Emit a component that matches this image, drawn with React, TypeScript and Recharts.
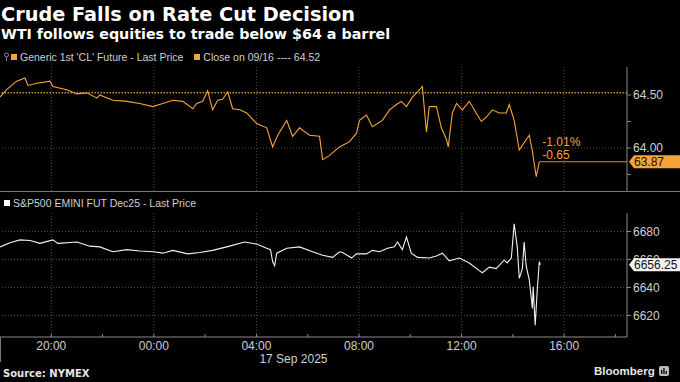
import { LineChart, Line, XAxis, YAxis, ReferenceLine } from "recharts";

// hours counted from 16 Sep 00:00 (24 = 17 Sep 00:00)
const wtiHours = [
  18.0, 18.26, 18.65, 18.97, 19.09, 19.44, 19.95, 20.06, 20.61, 21.0, 21.39, 21.78, 21.89, 22.4, 22.95,
  23.45, 23.96, 24.35, 24.74, 25.13, 25.52, 25.67, 25.9, 26.1, 26.29, 26.49, 26.68, 26.88, 27.07, 27.35,
  27.62, 28.01, 28.4, 28.63, 28.83, 29.18, 29.41, 29.68, 30.07, 30.46, 30.58, 30.85, 31.24, 31.63, 31.9,
  32.02, 32.29, 32.52, 32.91, 33.19, 33.46, 33.65, 33.85, 34.08, 34.28, 34.47, 34.63, 34.74, 35.02, 35.21,
  35.41, 35.48, 35.64, 35.8, 36.03, 36.3, 36.57, 36.77, 36.96, 37.2, 37.47, 37.74, 37.86, 38.05, 38.25,
  38.52, 38.64, 38.76, 38.91, 39.03,
];
const wtiPrice = [
  64.48, 64.55, 64.63, 64.66, 64.59, 64.61, 64.63, 64.58, 64.55, 64.51, 64.52, 64.47, 64.5, 64.45, 64.44,
  64.42, 64.39, 64.42, 64.45, 64.44, 64.37, 64.42, 64.44, 64.54, 64.36, 64.45, 64.46, 64.53, 64.37, 64.36,
  64.33, 64.23, 64.19, 64.01, 64.12, 64.26, 64.11, 64.19, 64.12, 64.11, 63.89, 63.93, 64.01, 64.06, 64.14,
  64.26, 64.31, 64.2, 64.26, 64.36, 64.41, 64.44, 64.39, 64.48, 64.53, 64.58, 64.15, 64.39, 64.39, 64.19,
  64.08, 64.01, 64.33, 64.42, 64.36, 64.44, 64.33, 64.25, 64.29, 64.36, 64.33, 64.33, 64.41, 64.26, 63.98,
  64.08, 64.12, 63.97, 63.73, 63.87,
];

const spxHours = [
  18.0, 18.39, 18.78, 19.17, 19.56, 20.06, 20.26, 21.0, 21.5, 21.89, 22.4, 22.95, 23.45, 24.0, 24.35,
  24.74, 25.32, 25.79, 26.29, 26.84, 27.54, 28.01, 28.4, 28.55, 28.63, 28.71, 28.79, 29.18, 29.68, 30.19,
  30.58, 30.97, 31.24, 31.36, 31.71, 31.9, 32.29, 32.52, 32.8, 33.11, 33.38, 33.5, 33.69, 33.85, 34.04,
  34.28, 34.74, 35.02, 35.25, 35.52, 35.91, 36.3, 36.69, 36.81, 37.08, 37.35, 37.66, 37.78, 37.94, 38.05,
  38.17, 38.25, 38.37, 38.44, 38.52, 38.64, 38.76, 38.79, 38.87, 38.95, 39.03, 39.07,
];
const spxPrice = [
  6669, 6672, 6674, 6673.5, 6671.5, 6674, 6671.5, 6672.5, 6669.5, 6669, 6665.5, 6667, 6666, 6665.5, 6664.5,
  6666.5, 6664, 6665, 6666.5, 6669, 6672.5, 6671, 6668, 6667, 6658.5, 6655.5, 6664.5, 6668, 6669, 6665.5,
  6663, 6661.5, 6665.5, 6665, 6661, 6664, 6664, 6666.5, 6665.5, 6668, 6669, 6672.5, 6667, 6676, 6664.5,
  6661.5, 6661, 6662.5, 6664.5, 6659, 6661, 6657.5, 6652, 6650.5, 6654.5, 6653.5, 6659.5, 6657.5, 6661, 6685.5,
  6669, 6646.5, 6653.5, 6672.5, 6655, 6645.5, 6625, 6640.5, 6613, 6638, 6658.5, 6656.25,
];

const wtiClose = 64.52;
const wtiTicks = [63.75, 64.0, 64.25, 64.5];
const wtiLabels = ["", "64.00", "", "64.50"];
const spxTicks = [6620, 6640, 6660, 6680];
const hourTicks = [20, 22, 24, 26, 28, 30, 32, 34, 36, 38, 40, 42];
const hourLabels = ["20:00", "", "00:00", "", "04:00", "", "08:00", "", "12:00", "", "16:00", ""];
const majorHours = [20, 24, 28, 32, 36, 40];
const dateLabel = "17 Sep 2025";
const xDomain = [18, 42.45];
const wtiDomain = [63.594, 64.764];
const spxDomain = [6604.6, 6693.2];

const wtiData = wtiHours.map((t, i) => ({ t, v: wtiPrice[i] }));
const spxData = spxHours.map((t, i) => ({ t, v: spxPrice[i] }));
const wtiLast = wtiPrice[wtiPrice.length - 1];
const wtiLastHour = wtiHours[wtiHours.length - 1];
const spxLast = spxPrice[spxPrice.length - 1];
const chg = wtiLast - wtiClose;
const chgPct = (chg / wtiClose) * 100;

const ORANGE = "#f5a43a";
const GRID = "#4c4c4c";
const AXIS = "#8a8a8a";
const TXT = "#cfcfcf";
const FONT = "'Liberation Sans', Arial, sans-serif";

const bottomMargin = { top: 21, right: 0, bottom: 15, left: 0 };

function Tag({ x, y, text, fill }: { x: number; y: number; text: string; fill: string }) {
  return (
    <g>
      <path d={`M${x} ${y} L${x + 5} ${y - 6.5} H680 V${y + 6.5} H${x + 5} Z`} fill={fill} />
      <text x={x + 5} y={y + 4.3} fill="#111" fontSize={12}>
        {text}
      </text>
    </g>
  );
}

function WtiLastLabel(props: any) {
  const { x, y, width } = props.viewBox;
  return (
    <g>
      <text x={x + 3} y={y - 16} fill={ORANGE} fontSize={12}>
        {chgPct.toFixed(2)}%
      </text>
      <text x={x + 3} y={y - 3} fill={ORANGE} fontSize={12}>
        {chg.toFixed(2)}
      </text>
      <Tag x={x + width + 2} y={y} text={wtiLast.toFixed(2)} fill={ORANGE} />
    </g>
  );
}

function SpxLastLabel(props: any) {
  const { x, y, width } = props.viewBox;
  return <Tag x={x + width + 2} y={y} text={spxLast.toFixed(2)} fill="#f2f2f2" />;
}

function HourTick(props: any) {
  const { x, y, payload } = props;
  const i = hourTicks.indexOf(payload.value);
  const label = hourLabels[i];
  return (
    <g>
      <line x1={x} x2={x} y1={y - 3} y2={y} stroke={AXIS} />
      {label && (
        <text x={x} y={y + 13} textAnchor="middle" fill={TXT} fontSize={12}>
          {label}
        </text>
      )}
      {payload.value === 28 && (
        <text x={x + 3} y={y + 26} fill={TXT} fontSize={12}>
          {dateLabel}
        </text>
      )}
    </g>
  );
}

export default function App() {
  return (
    <div
      style={{
        position: "absolute",
        left: 0,
        top: 0,
        width: 680,
        height: 382,
        background: "#000",
        overflow: "hidden",
        fontFamily: FONT,
        color: TXT,
      }}
    >
      <div
        style={{
          position: "absolute",
          left: 1,
          top: 3,
          fontFamily: "'DejaVu Sans', sans-serif",
          fontWeight: 700,
          fontSize: 19.3,
          color: "#fff",
          whiteSpace: "nowrap",
        }}
      >
        Crude Falls on Rate Cut Decision
      </div>
      <div
        style={{
          position: "absolute",
          left: 1,
          top: 26,
          fontFamily: "'DejaVu Sans', sans-serif",
          fontWeight: 700,
          fontSize: 14.3,
          color: "#fff",
          whiteSpace: "nowrap",
        }}
      >
        WTI follows equities to trade below $64 a barrel
      </div>

      {/* top legend */}
      <div style={{ position: "absolute", left: 3, top: 50, height: 14, display: "flex", alignItems: "center", fontSize: 10.5, whiteSpace: "nowrap" }}>
        <svg width={7} height={10} style={{ marginRight: 1 }}>
          <circle cx={3.5} cy={3} r={2} fill="none" stroke="#888" strokeWidth={1} />
          <line x1={3.5} x2={3.5} y1={5} y2={9} stroke="#888" />
        </svg>
        <span style={{ width: 6, height: 6, background: ORANGE, marginRight: 3 }} />
        <span>Generic 1st 'CL' Future - Last Price</span>
        <span style={{ width: 6, height: 6, background: ORANGE, marginLeft: 11, marginRight: 3 }} />
        <span>Close on 09/16 ---- {wtiClose.toFixed(2)}</span>
      </div>

      <div style={{ position: "absolute", left: 0, top: 0 }}>
        <LineChart width={680} height={192} data={wtiData} margin={{ top: 67, right: 0, bottom: 1, left: 0 }}>
          <XAxis dataKey="t" type="number" domain={xDomain} hide allowDataOverflow />
          <YAxis
            orientation="right"
            width={53}
            domain={wtiDomain}
            allowDataOverflow
            ticks={wtiTicks}
            interval={0}
            tickFormatter={(v: number) => wtiLabels[wtiTicks.indexOf(v)] ?? ""}
            axisLine={{ stroke: AXIS }}
            tickLine={{ stroke: AXIS }}
            tickSize={4}
            tickMargin={2}
            tick={{ fill: TXT, fontSize: 12 }}
          />
          {majorHours.map((h) => (
            <ReferenceLine key={h} x={h} stroke={GRID} strokeDasharray="1 2" />
          ))}
          <ReferenceLine y={64.0} stroke={GRID} strokeDasharray="1 2" />
          <ReferenceLine y={wtiClose} stroke="#c98a30" strokeWidth={1.5} strokeDasharray="1.5 1.5" />
          <Line type="linear" dataKey="v" stroke={ORANGE} strokeWidth={1.1} dot={false} isAnimationActive={false} />
          <ReferenceLine
            segment={[
              { x: wtiLastHour, y: wtiLast },
              { x: xDomain[1], y: wtiLast },
            ]}
            stroke="#d48d2e"
            strokeWidth={1.2}
            label={(p: any) => <WtiLastLabel {...p} />}
          />
        </LineChart>
      </div>

      <div style={{ position: "absolute", left: 0, top: 191, width: 680, height: 1, background: "#777" }} />

      {/* bottom legend */}
      <div style={{ position: "absolute", left: 4, top: 196, height: 14, display: "flex", alignItems: "center", fontSize: 10.5, whiteSpace: "nowrap" }}>
        <span style={{ width: 6, height: 6, background: "#fff", marginRight: 3 }} />
        <span>S&amp;P500 EMINI FUT Dec25 - Last Price</span>
      </div>

      <div style={{ position: "absolute", left: 0, top: 192 }}>
        <LineChart width={680} height={190} data={spxData} margin={bottomMargin}>
          <XAxis
            dataKey="t"
            type="number"
            domain={xDomain}
            allowDataOverflow
            ticks={hourTicks}
            interval={0}
            height={30}
            axisLine={{ stroke: AXIS }}
            tickLine={false}
            tickSize={0}
            tickMargin={0}
            tick={(p: any) => <HourTick {...p} />}
          />
          <YAxis
            orientation="right"
            width={53}
            domain={spxDomain}
            allowDataOverflow
            ticks={spxTicks}
            interval={0}
            axisLine={{ stroke: AXIS }}
            tickLine={{ stroke: AXIS }}
            tickSize={4}
            tickMargin={2}
            tick={{ fill: TXT, fontSize: 12 }}
          />
          {majorHours.map((h) => (
            <ReferenceLine key={h} x={h} stroke={GRID} strokeDasharray="1 2" />
          ))}
          {spxTicks.map((v) => (
            <ReferenceLine key={v} y={v} stroke={GRID} strokeDasharray="1 2" />
          ))}
          <Line type="linear" dataKey="v" stroke="#f2f2f2" strokeWidth={1.1} dot={false} isAnimationActive={false} />
        </LineChart>
      </div>

      {/* overlay with the same scales so the last-price tag sits above the axis labels */}
      <div style={{ position: "absolute", left: 0, top: 192, pointerEvents: "none" }}>
        <LineChart width={680} height={190} data={spxData} margin={bottomMargin}>
          <XAxis dataKey="t" type="number" domain={xDomain} allowDataOverflow height={30} tick={false} axisLine={false} tickLine={false} />
          <YAxis orientation="right" width={53} domain={spxDomain} allowDataOverflow tick={false} axisLine={false} tickLine={false} />
          <ReferenceLine y={spxLast} stroke="none" label={(p: any) => <SpxLastLabel {...p} />} />
        </LineChart>
      </div>

      <div style={{ position: "absolute", left: 0, top: 337, width: 1, height: 25, background: "#777" }} />

      <div
        style={{
          position: "absolute",
          left: 3,
          top: 368,
          fontFamily: "'DejaVu Sans', sans-serif",
          fontWeight: 700,
          fontSize: 10,
          color: "#e6e6e6",
        }}
      >
        Source: NYMEX
      </div>
      <div style={{ position: "absolute", left: 594, top: 365, display: "flex", alignItems: "center", color: "#e6e6e6" }}>
        <span style={{ fontWeight: 700, fontSize: 11.5 }}>Bloomberg</span>
        <svg width={10} height={10} style={{ marginLeft: 4 }}>
          <rect x={0} y={0} width={10} height={10} rx={2} fill="#bbb" />
          <rect x={2} y={4} width={1.3} height={4} fill="#000" />
          <rect x={4.3} y={2} width={1.3} height={6} fill="#000" />
          <rect x={6.6} y={5} width={1.3} height={3} fill="#000" />
        </svg>
      </div>
    </div>
  );
}
